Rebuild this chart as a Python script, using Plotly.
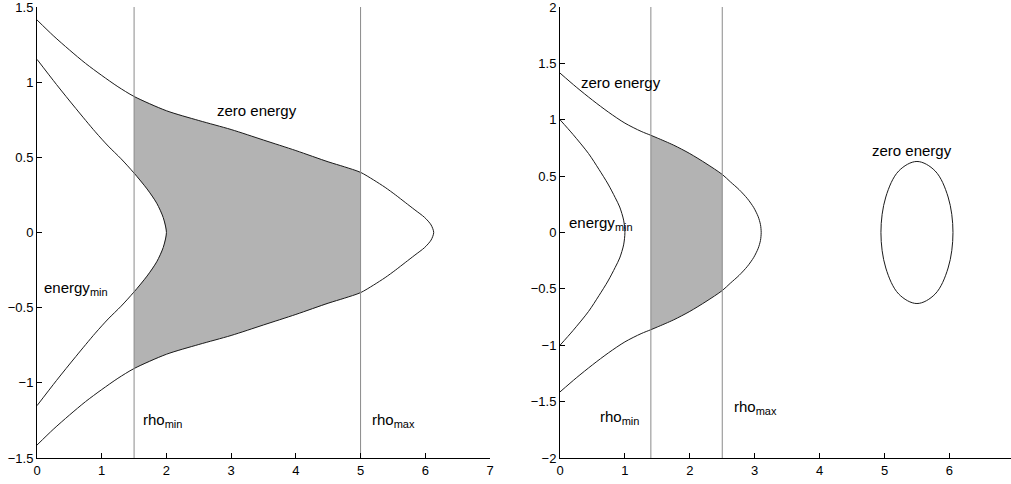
import plotly.graph_objects as go

# ---------------- data ----------------
# Left panel: upper halves of the curves (lower halves are mirror images)
L_outer_x = [0.0, 0.25, 0.5, 0.75, 1.0, 1.25, 1.5, 2.0, 2.5, 3.0, 3.5, 4.0, 4.5, 4.75, 5.0, 5.2, 5.38, 5.54, 5.69, 5.84, 5.99, 6.09, 6.13]
L_outer_y = [1.414, 1.31, 1.215, 1.125, 1.045, 0.97, 0.905, 0.81, 0.745, 0.685, 0.615, 0.545, 0.47, 0.437, 0.40, 0.35, 0.30, 0.25, 0.20, 0.15, 0.10, 0.05, 0.0]
L_inner_x = [0.0, 0.3, 0.6, 0.9, 1.1, 1.3, 1.5, 1.7, 1.85, 1.95, 2.0]
L_inner_y = [1.152, 0.985, 0.825, 0.67, 0.575, 0.49, 0.395, 0.29, 0.195, 0.10, 0.0]
L_rho_min, L_rho_max = 1.5, 5.0

# Right panel
R_outer_x = [0.0, 0.25, 0.5, 0.75, 1.0, 1.25, 1.4, 1.5, 1.75, 2.0, 2.25, 2.5, 2.624, 2.76, 2.888, 2.986, 3.054, 3.089, 3.1]
R_outer_y = [1.414, 1.29, 1.174, 1.066, 0.97, 0.897, 0.862, 0.838, 0.775, 0.70, 0.612, 0.515, 0.45, 0.38, 0.30, 0.22, 0.14, 0.07, 0.0]
R_inner_x = [0.0, 0.2, 0.44, 0.6, 0.74, 0.85, 0.92, 0.98, 1.0]
R_inner_y = [1.0, 0.87, 0.70, 0.56, 0.43, 0.31, 0.226, 0.11, 0.0]
R_rho_min, R_rho_max = 1.4, 2.5
R_island_x = [6.055, 5.98, 5.78, 5.5, 5.22, 5.02, 4.945, 5.02, 5.22, 5.5, 5.78, 5.98, 6.055]
R_island_y = [0.0, 0.315, 0.546, 0.63, 0.546, 0.315, 0.0, -0.315, -0.546, -0.63, -0.546, -0.315, 0.0]

L_xticks = [0, 1, 2, 3, 4, 5, 6, 7]
L_yticks = [-1.5, -1, -0.5, 0, 0.5, 1, 1.5]
R_xticks = [0, 1, 2, 3, 4, 5, 6, 7]
R_yticks = [-2, -1.5, -1, -0.5, 0, 0.5, 1, 1.5, 2]

# ---------------- helpers ----------------
def full_curve(xu, yu):
    """Upper half followed by mirrored lower half (path order)."""
    xs = list(xu) + list(reversed(xu[:-1]))
    ys = list(yu) + [-v for v in reversed(yu[:-1])]
    return xs, ys

def band_polygon(ox, oy, ix, iy, a, b):
    up = [(x, y) for x, y in zip(ox, oy) if a - 1e-9 <= x <= b + 1e-9]
    poly = up + [(x, -y) for x, y in reversed(up)]
    inner = [(x, y) for x, y in zip(ix, iy) if x >= a - 1e-9]
    if inner:
        lower = [(x, -y) for x, y in inner]
        upper = [(x, y) for x, y in reversed(inner[:-1])]
        poly += lower + upper
    poly.append(up[0])
    return [p[0] for p in poly], [p[1] for p in poly]

FONT = "Liberation Sans, Arial, Helvetica, sans-serif"
CURVE = dict(color="#1a1a1a", width=1, shape="spline", smoothing=0.8)
VLINE = dict(color="#8a8a8a", width=1)
FILL = "#b3b3b3"

fig = go.Figure()

# ---- left panel ----
px_, py_ = band_polygon(L_outer_x, L_outer_y, L_inner_x, L_inner_y, L_rho_min, L_rho_max)
fig.add_trace(go.Scatter(x=px_, y=py_, fill="toself", fillcolor=FILL, mode="lines",
                         line=dict(width=0, color=FILL), xaxis="x", yaxis="y", hoverinfo="skip"))
for xu, yu in [(L_outer_x, L_outer_y), (L_inner_x, L_inner_y)]:
    cx, cy = full_curve(xu, yu)
    fig.add_trace(go.Scatter(x=cx, y=cy, mode="lines", line=CURVE, xaxis="x", yaxis="y"))
for r in (L_rho_min, L_rho_max):
    fig.add_trace(go.Scatter(x=[r, r], y=[L_yticks[0], L_yticks[-1]], mode="lines",
                             line=VLINE, xaxis="x", yaxis="y"))

# ---- right panel ----
px_, py_ = band_polygon(R_outer_x, R_outer_y, R_inner_x, R_inner_y, R_rho_min, R_rho_max)
fig.add_trace(go.Scatter(x=px_, y=py_, fill="toself", fillcolor=FILL, mode="lines",
                         line=dict(width=0, color=FILL), xaxis="x2", yaxis="y2", hoverinfo="skip"))
for xu, yu in [(R_outer_x, R_outer_y), (R_inner_x, R_inner_y)]:
    cx, cy = full_curve(xu, yu)
    fig.add_trace(go.Scatter(x=cx, y=cy, mode="lines", line=CURVE, xaxis="x2", yaxis="y2"))
fig.add_trace(go.Scatter(x=R_island_x, y=R_island_y, mode="lines",
                         line=dict(color="#1a1a1a", width=1, shape="spline", smoothing=1.0),
                         xaxis="x2", yaxis="y2"))
for r in (R_rho_min, R_rho_max):
    fig.add_trace(go.Scatter(x=[r, r], y=[R_yticks[0], R_yticks[-1]], mode="lines",
                             line=VLINE, xaxis="x2", yaxis="y2"))

# ---- text labels ----
def lab(text, x, y, ax, xanchor="left"):
    fig.add_annotation(text=text, x=x, y=y, xref=ax[0], yref=ax[1], showarrow=False,
                       xanchor=xanchor, yanchor="middle",
                       font=dict(family=FONT, size=15, color="black"))

SUB = lambda s: "<sub><span style='font-size:11px'>%s</span></sub>" % s
lab("zero energy", 3.40, 0.81, ("x", "y"), "center")
lab("energy" + SUB("min"), 0.07, -0.37, ("x", "y"))
lab("rho" + SUB("min"), 1.61, -1.25, ("x", "y"))
lab("rho" + SUB("max"), 5.15, -1.25, ("x", "y"))

lab("zero energy", 0.30, 1.33, ("x2", "y2"))
lab("zero energy", 4.78, 0.73, ("x2", "y2"))
lab("energy" + SUB("min"), 0.10, 0.08, ("x2", "y2"))
lab("rho" + SUB("min"), 0.59, -1.64, ("x2", "y2"))
lab("rho" + SUB("max"), 2.65, -1.55, ("x2", "y2"))

W, H = 1011, 484
axis_common = dict(showgrid=False, zeroline=False, showline=True, linecolor="black",
                   linewidth=1, ticks="inside", ticklen=5, tickcolor="black",
                   tickfont=dict(family=FONT, size=13, color="black"), mirror=False,
                   automargin=False, ticklabeloverflow="allow")

EPS = 1e-4
fig.update_layout(
    width=W, height=H, showlegend=False,
    paper_bgcolor="white", plot_bgcolor="white",
    margin=dict(l=0, r=0, t=7, b=26),
    xaxis=dict(domain=[37 / W, 490 / W], range=[-EPS, 7 + EPS], tickvals=L_xticks, anchor="y", **axis_common),
    yaxis=dict(domain=[0, 1], range=[-1.5 - EPS, 1.5 + EPS], tickvals=L_yticks, anchor="x", **axis_common),
    xaxis2=dict(domain=[560 / W, 1.0], range=[-EPS, (W - 560) / 64.9], tickvals=R_xticks, anchor="y2", **axis_common),
    yaxis2=dict(domain=[0, 1], range=[-2 - EPS, 2 + EPS], tickvals=R_yticks, anchor="x2", **axis_common),
)

fig.write_html("out.html")
